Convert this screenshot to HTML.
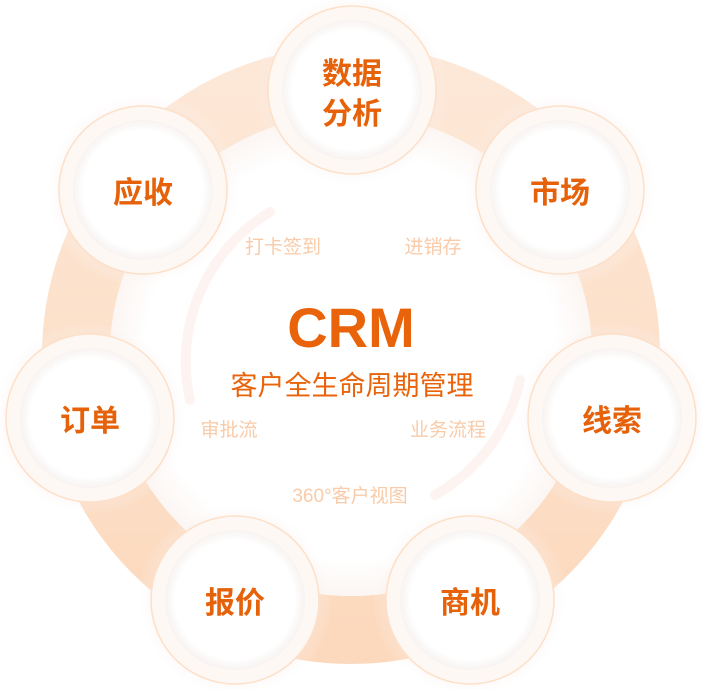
<!DOCTYPE html>
<html><head><meta charset="utf-8"><style>
html,body{margin:0;padding:0;background:#fff;}
svg{display:block;}
text{font-family:"Liberation Sans","Noto Sans CJK SC",sans-serif;}
</style></head><body>
<svg width="702" height="690" viewBox="0 0 702 690" xmlns="http://www.w3.org/2000/svg">
<defs>
<linearGradient id="ring" x1="0" y1="0" x2="0" y2="1">
<stop offset="0" stop-color="#fde7d6"/><stop offset="1" stop-color="#fcd9bd"/>
</linearGradient>
<radialGradient id="inner" cx="0.5" cy="0.5" r="0.5">
<stop offset="0.85" stop-color="#ffffff"/><stop offset="1" stop-color="#f7f3f1"/>
</radialGradient>
<radialGradient id="halo" cx="0.5" cy="0.5" r="0.5">
<stop offset="0.78" stop-color="#f5e2dc" stop-opacity="0.45"/><stop offset="1" stop-color="#ffffff" stop-opacity="0"/>
</radialGradient>
<radialGradient id="center" cx="0.5" cy="0.5" r="0.5">
<stop offset="0.85" stop-color="#ffffff"/><stop offset="1" stop-color="#fcf6f3"/>
</radialGradient>
<g id="node">
<circle r="98" fill="url(#halo)"/>
<circle r="84" fill="#fef8f5" stroke="#fde0c8" stroke-width="1.5"/>
<circle r="70" fill="url(#inner)"/>
</g>
</defs>
<circle cx="351" cy="355" r="275" fill="none" stroke="url(#ring)" stroke-width="68"/>
<circle cx="351" cy="355" r="241" fill="url(#center)"/>
<path d="M270 212 A175 175 0 0 0 190 400" fill="none" stroke="#fdf4f1" stroke-width="10" stroke-linecap="round"/>
<path d="M520 380 A175 175 0 0 1 435 495" fill="none" stroke="#fdf4f1" stroke-width="10" stroke-linecap="round"/>
<use href="#node" x="352" y="90"/>
<use href="#node" x="560" y="190"/>
<use href="#node" x="612" y="418"/>
<use href="#node" x="470" y="600"/>
<use href="#node" x="235" y="600"/>
<use href="#node" x="90" y="418"/>
<use href="#node" x="143" y="190"/>
<g fill="#e5620a" font-size="30" font-weight="bold" text-anchor="middle">
<text x="352" y="84">数据</text>
<text x="352" y="124">分析</text>
<text x="560" y="203">市场</text>
<text x="612" y="431">线索</text>
<text x="470" y="613">商机</text>
<text x="235" y="613">报价</text>
<text x="90" y="431">订单</text>
<text x="143" y="203">应收</text>
</g>
<text x="351" y="347" fill="#e8630a" font-size="56" font-weight="bold" text-anchor="middle">CRM</text>
<text x="352" y="395" fill="#e8630a" font-size="27" text-anchor="middle">客户全生命周期管理</text>
<g fill="#f9cba8" font-size="19" text-anchor="middle">
<text x="283" y="253">打卡签到</text>
<text x="433" y="253">进销存</text>
<text x="229" y="436">审批流</text>
<text x="448" y="436">业务流程</text>
<text x="350" y="502">360°客户视图</text>
</g>
</svg>
</body></html>
